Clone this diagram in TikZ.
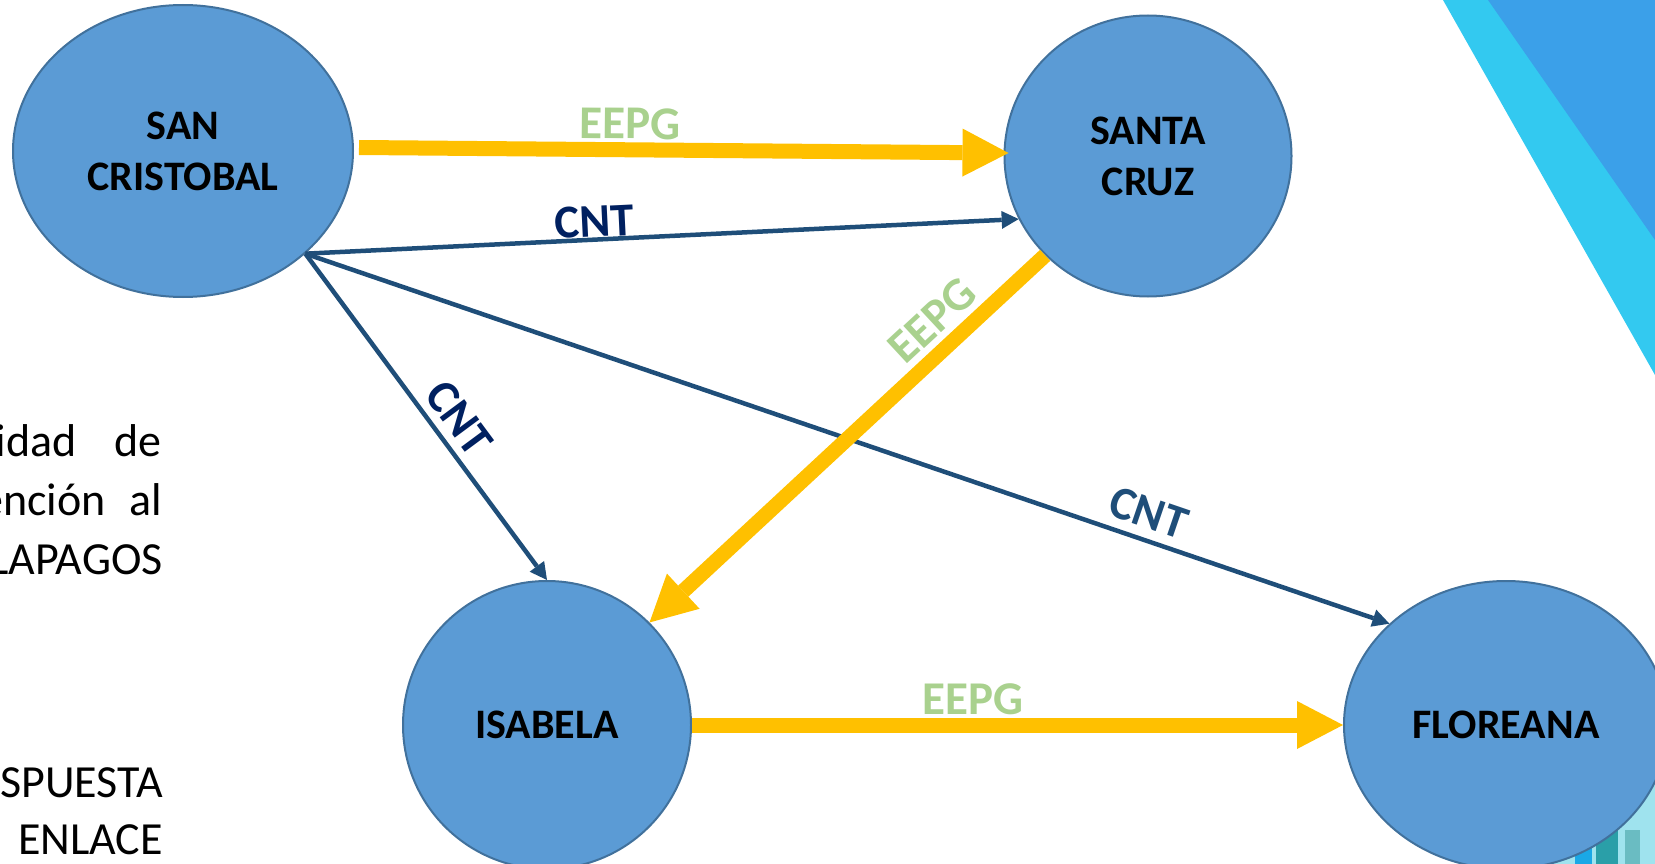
\documentclass[tikz,border=0pt]{standalone}
\usepackage{fontspec}
\setmainfont{Carlito}
\usetikzlibrary{arrows.meta,shapes.geometric}
\definecolor{nodefill}{HTML}{5B9BD5}
\definecolor{nodeline}{HTML}{41719C}
\definecolor{gold}{HTML}{FFC000}
\definecolor{eepg}{HTML}{A9D18E}
\definecolor{cntline}{HTML}{1F4E79}
\definecolor{navy}{HTML}{002060}
\definecolor{bandcyan}{HTML}{33C9F0}
\definecolor{bandblue}{HTML}{3BA0E9}
\definecolor{citylight}{HTML}{9FE3EE}
\definecolor{cityteal}{HTML}{2A9FA8}
\definecolor{cityblue}{HTML}{1AA8E6}
\begin{document}
\begin{tikzpicture}[x=1pt,y=-1pt,
  island/.style={ellipse, draw=nodeline, line width=2pt, fill=nodefill, inner sep=0pt, align=center, font=\fontsize{42}{51}\selectfont\bfseries},
  power/.style={draw=gold, line width=15pt, -{Triangle[length=46pt,width=48pt,line width=0pt]}},
  telco/.style={draw=cntline, line width=4.5pt, -{Triangle[length=17pt,width=18pt,line width=0pt]}},
  eepglab/.style={text=eepg, font=\fontsize{47}{51}\selectfont\bfseries, inner sep=0pt},
  cntlab/.style={text=navy, font=\fontsize{47}{51}\selectfont\bfseries, inner sep=0pt},
  bodytext/.style={font=\fontsize{46}{57}\selectfont, inner sep=0pt, anchor=base east}
]
\useasboundingbox (0,0) rectangle (1655,864);
% background decoration
\fill[bandcyan] (1443,0) -- (1655,0) -- (1655,375) -- cycle;
\fill[bandblue] (1488,0) -- (1655,0) -- (1655,240) -- cycle;
\fill[citylight] (1540,775) rectangle (1655,864);
\fill[cityteal] (1596,812) rectangle (1618,864);
\fill[cityblue] (1575,835) rectangle (1592,864);
\fill[cityteal!70] (1625,830) rectangle (1640,864);
% left text fragments
\node[bodytext] (t1) at (77,456) {idad};
\node[bodytext] (t2) at (162,456) {de};
\node[bodytext] (t3) at (106,515) {ención};
\node[bodytext] (t4) at (162,515) {al};
\node[bodytext] (t5) at (163,574) {LAPAGOS};
\node[bodytext] (t6) at (163,797) {SPUESTA};
\node[bodytext] (t7) at (163,854) {ENLACE};
% islands
\node[island, minimum width=340pt, minimum height=292pt] (sc) at (183,151) {SAN\\CRISTOBAL};
\node[island, minimum width=287pt, minimum height=281pt] (scz) at (1148,156) {SANTA\\CRUZ};
\node[island, minimum width=288pt, minimum height=288pt] (isa) at (547,725) {ISABELA};
\node[island, minimum width=324pt, minimum height=288pt] (flo) at (1506,725) {FLOREANA};
% connectors
\draw[power] ([xshift=5pt,yshift=3.5pt]sc.east) -- ([xshift=5pt,yshift=3pt]scz.west)
  node[pos=0.417, sloped, above=3pt, eepglab] {EEPG};
\draw[telco] (sc.-40) -- (scz.206)
  node[pos=0.406, sloped, above=0pt, cntlab] {CNT};
\draw[telco] (sc.-40) -- (isa.north)
  node[pos=0.552, sloped, above=8pt, cntlab] {CNT};
\draw[telco] (sc.-40) -- (flo.139)
  node[pos=0.77, sloped, above=9pt, cntlab, text=cntline] {CNT};
\draw[power] (scz.224) -- (isa.45)
  node[pos=0.235, sloped, above=6pt, eepglab] {EEPG};
\draw[power] (isa.east) -- (flo.west)
  node[pos=0.432, above=3pt, eepglab] {EEPG};
\end{tikzpicture}
\end{document}
